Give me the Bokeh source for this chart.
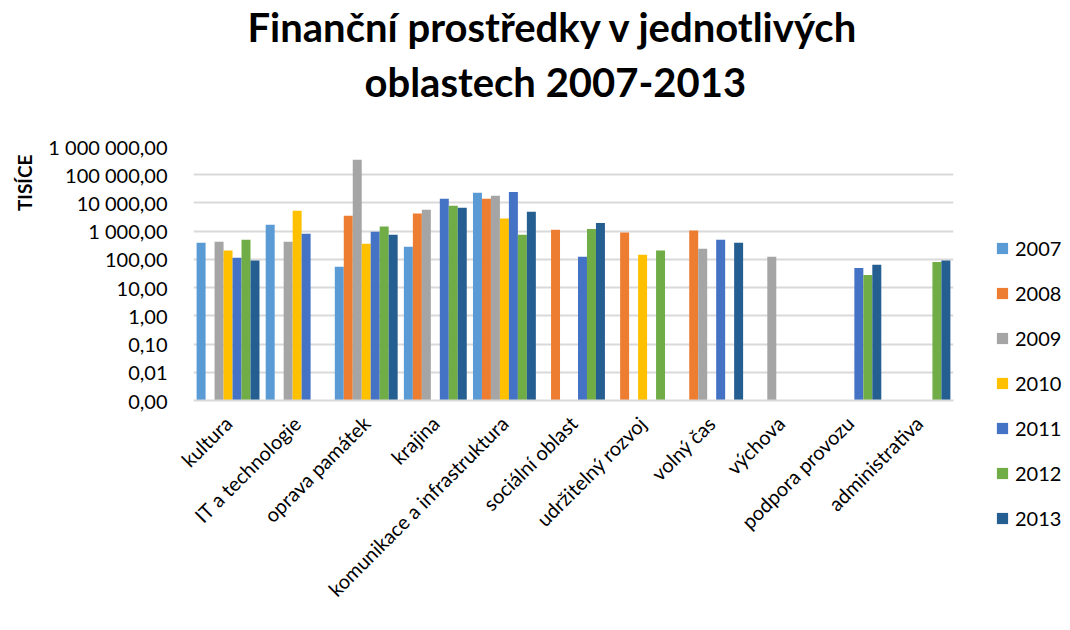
import math
from bokeh.plotting import figure
from bokeh.models import (FactorRange, FixedTicker, CustomJSTickFormatter, Title,
                          ColumnDataSource, Legend, LegendItem)
from bokeh.layouts import row
from bokeh.transform import dodge
from bokeh.embed import file_html
from bokeh.resources import INLINE

nan = float("nan")

categories = ["kultura", "IT a technologie", "oprava památek", "krajina",
              "komunikace a infrastruktura", "sociální oblast", "udržitelný rozvoj",
              "volný čas", "výchova", "podpora provozu", "administrativa"]
years = ["2007", "2008", "2009", "2010", "2011", "2012", "2013"]

v2007 = [390, 1700, 55, 280, 23000, nan, nan, nan, nan, nan, nan]
v2008 = [nan, nan, 3500, 4200, 14000, 1130, 890, 1050, nan, nan, nan]
v2009 = [425, 425, 340000, 5700, 18000, nan, nan, 240, 124, nan, nan]
v2010 = [205, 5300, 360, nan, 2800, nan, 145, nan, nan, nan, nan]
v2011 = [115, 810, 960, 14000, 24500, 124, nan, 500, nan, 50, nan]
v2012 = [500, nan, 1450, 8000, 750, 1200, 205, nan, nan, 28, 81]
v2013 = [92, nan, 750, 6700, 4900, 1950, nan, 390, nan, 65, 91]

tick_values = [0.001, 0.01, 0.1, 1, 10, 100, 1000, 10000, 100000, 1000000]
tick_labels = ["0,00", "0,01", "0,10", "1,00", "10,00", "100,00", "1 000,00",
               "10 000,00", "100 000,00", "1 000 000,00"]

title_line1 = "Finanční prostředky v jednotlivých"
title_line2 = "oblastech 2007-2013"
y_title = "TISÍCE"

colors = ["#5B9BD5", "#ED7D31", "#A5A5A5", "#FFC000", "#4472C4", "#70AD47", "#255E91"]
series = [v2007, v2008, v2009, v2010, v2011, v2012, v2013]

FONT = "Lato"

data = {"cat": categories}
for y, s in zip(years, series):
    data["y" + y] = s
source = ColumnDataSource(data)

H = 622
p = figure(width=975, height=H, x_range=FactorRange(*categories),
           y_axis_type="log", y_range=(0.001, 1000000),
           output_backend="svg", toolbar_location=None,
           min_border_left=193, min_border_right=22, min_border_top=146,
           min_border_bottom=222)
p.outline_line_color = None
p.frame_align = False

bw = 0.13
for j, (y, c) in enumerate(zip(years, colors)):
    p.vbar(x=dodge("cat", (j - 3) * bw, range=p.x_range), top="y" + y, bottom=0.001,
           width=bw, source=source, fill_color=c, line_color=None)

# titles (a blank spacer keeps the second line away from the plot area)
p.title = Title(text=title_line1, align="left", offset=54, text_font=FONT,
                text_font_size="40px", text_font_style="bold", text_color="black",
                standoff=0)
spacer = Title(text=" ", text_font_size="10px", standoff=23)
t2 = Title(text=title_line2, align="left", offset=171, text_font=FONT,
           text_font_size="40px", text_font_style="bold", text_color="black",
           standoff=10)
p.add_layout(spacer, "above")
p.add_layout(t2, "above")

# y axis
p.yaxis.ticker = FixedTicker(ticks=tick_values, minor_ticks=[])
p.yaxis.formatter = CustomJSTickFormatter(args=dict(labels=tick_labels),
                                          code="return labels[Math.round(Math.log10(tick)) + 3];")
p.yaxis.axis_line_color = None
p.yaxis.major_tick_line_color = None
p.yaxis.major_tick_out = 0
p.yaxis.minor_tick_line_color = None
p.yaxis.major_label_text_font = FONT
p.yaxis.major_label_text_font_size = "20px"
p.yaxis.major_label_text_color = "black"
p.yaxis.major_label_standoff = 26

ylab = Title(text=y_title, align="right", offset=8, text_font=FONT,
             text_font_size="19px", text_font_style="bold", text_color="black",
             standoff=20)
p.add_layout(ylab, "left")

p.ygrid.grid_line_color = "#D9D9D9"
p.ygrid.grid_line_width = 2
p.xgrid.grid_line_color = None

p.xaxis.axis_line_color = "#D9D9D9"
p.xaxis.axis_line_width = 2
p.xaxis.major_tick_line_color = None
p.xaxis.major_tick_out = 0
p.xaxis.minor_tick_line_color = None
p.xaxis.major_label_orientation = math.pi / 4
p.xaxis.major_label_text_font = FONT
p.xaxis.major_label_text_font_size = "20px"
p.xaxis.major_label_text_color = "black"
p.xaxis.major_label_standoff = 19

# legend in its own narrow figure so nothing is clipped
pl = figure(width=87, height=H, x_range=(0, 1), y_range=(0, 1),
            output_backend="svg", toolbar_location=None,
            x_axis_location=None, y_axis_location=None,
            min_border_left=0, min_border_right=0, min_border_top=0, min_border_bottom=0)
pl.frame_align = False
pl.outline_line_color = None
pl.xgrid.grid_line_color = None
pl.ygrid.grid_line_color = None
hidden = ColumnDataSource(dict(x=[5.0], top=[5.0]))
items = []
for y, c in zip(years, colors):
    r = pl.vbar(x="x", top="top", width=0.1, source=hidden, fill_color=c, line_color=None)
    items.append(LegendItem(label=y, renderers=[r]))
leg = Legend(items=items, location=(20, 92), orientation="vertical",
             border_line_color=None, background_fill_alpha=0, padding=0, margin=0,
             spacing=21, glyph_width=14, glyph_height=14, label_height=20,
             label_standoff=6, label_text_font=FONT, label_text_font_size="20px",
             label_text_color="black")
pl.add_layout(leg)

layout = row(p, pl, spacing=0)
open("out.html", "w").write(file_html(layout, INLINE))
